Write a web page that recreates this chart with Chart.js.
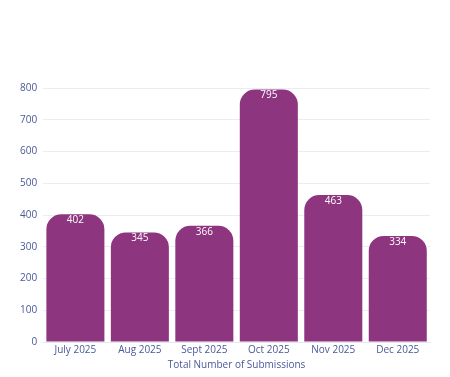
<!DOCTYPE html>
<html><head><meta charset="utf-8">
<script src="https://cdn.jsdelivr.net/npm/chart.js@4"></script>
<style>html,body{margin:0;padding:0;background:#fff}#wrap{width:450px;height:377px}</style>
</head><body><div id="wrap"><canvas id="c"></canvas></div>
<script>
const categories = ["July 2025","Aug 2025","Sept 2025","Oct 2025","Nov 2025","Dec 2025"];
const submissions = [402,345,366,795,463,334];
const yTicks = [0,100,200,300,400,500,600,700,800];
const axisTitle = "Total Number of Submissions";

const labelPlugin = {
  id:'vals',
  afterDatasetsDraw(chart){
    const ctx = chart.ctx;
    const meta = chart.getDatasetMeta(0);
    ctx.save();
    ctx.fillStyle = '#ffffff';
    ctx.font = '10px "Open Sans", sans-serif';
    ctx.textAlign = 'center';
    ctx.textBaseline = 'top';
    meta.data.forEach((bar,i)=>{
      ctx.fillText(String(submissions[i]), bar.x, bar.y + 1);
    });
    ctx.restore();
  }
};

new Chart(document.getElementById('c'),{
  type:'bar',
  data:{labels:categories,datasets:[{data:submissions,backgroundColor:'#8e3580',
    borderRadius:{topLeft:15,topRight:15,bottomLeft:0,bottomRight:0},borderSkipped:'bottom',
    barPercentage:0.9,categoryPercentage:1.0}]},
  options:{
    responsive:true,maintainAspectRatio:false,animation:false,
    layout:{padding:{top:88,right:20,left:14,bottom:6}},
    plugins:{legend:{display:false},tooltip:{enabled:false}},
    scales:{
      x:{grid:{display:false,drawTicks:false},border:{display:true,color:'#e6e6f0'},
        ticks:{color:'#4a5898',font:{family:'"Open Sans", sans-serif',size:10},padding:2},
        title:{display:true,text:axisTitle,color:'#4a5898',font:{family:'"Open Sans", sans-serif',size:10},padding:{top:1,bottom:0}}},
      y:{min:0,max:800,afterBuildTicks(ax){ax.ticks=yTicks.map(v=>({value:v}));},
        grid:{color:'#ececf4',drawTicks:false},border:{display:false},
        ticks:{color:'#4a5898',font:{family:'"Open Sans", sans-serif',size:10},padding:6}}
    }
  },
  plugins:[labelPlugin]
});
</script></body></html>
